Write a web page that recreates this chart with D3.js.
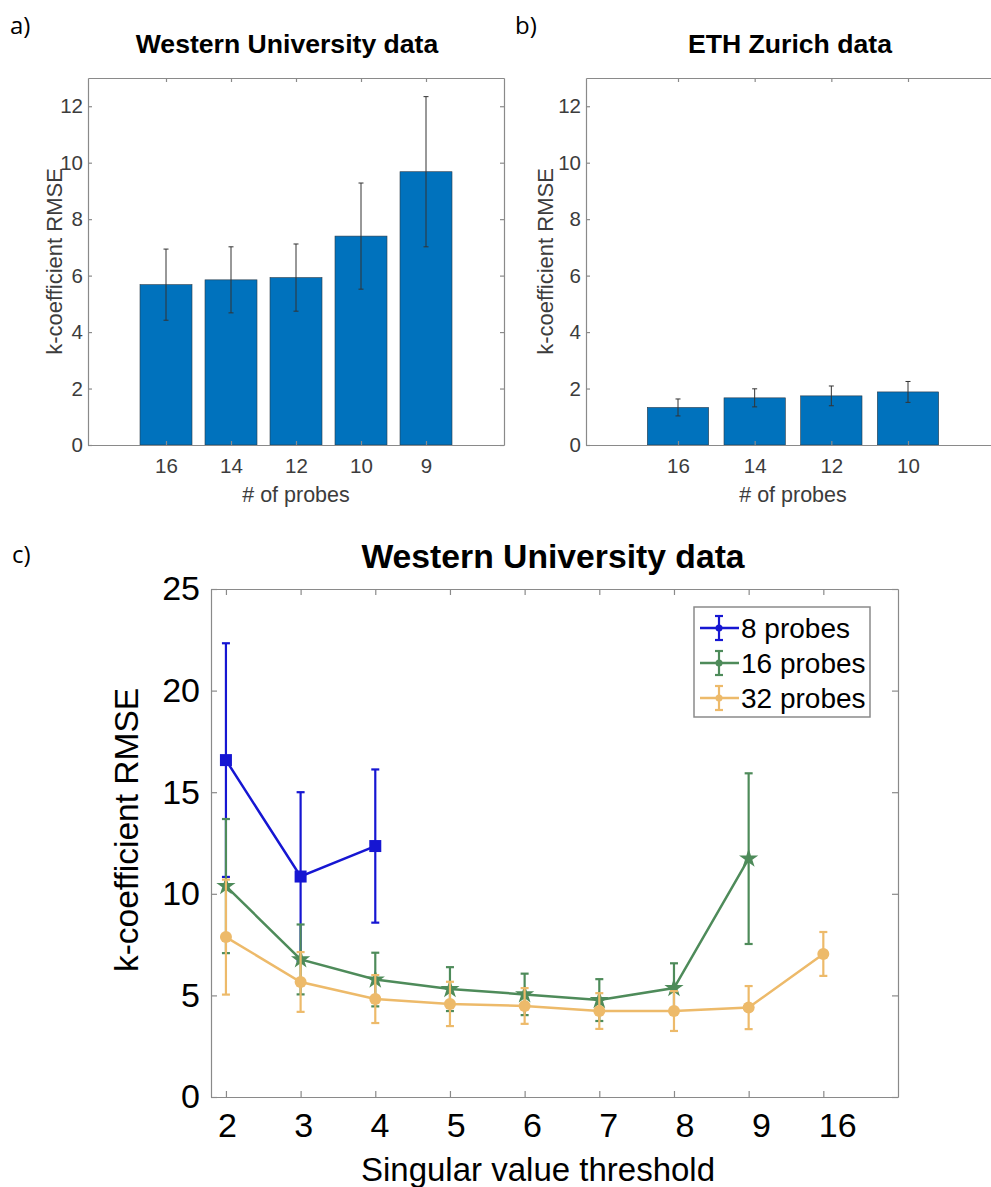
<!DOCTYPE html>
<html>
<head>
<meta charset="utf-8">
<script src="https://cdnjs.cloudflare.com/ajax/libs/d3/7.8.5/d3.min.js"></script>
<style>
    body { margin: 0; background: #fff; }
    svg { display: block; font-family: "Liberation Sans", Arial, sans-serif; }
</style>
</head>
<body>
<div id="figure"></div>
<script>

// * Data

// a) Western University, bar chart
var probesA = ["16", "14", "12", "10", "9"];
var rmseA   = [5.68, 5.85, 5.93, 7.40, 9.68];
var errA    = [1.26, 1.17, 1.19, 1.88, 2.66];

// b) ETH Zurich, bar chart
var probesB = ["16", "14", "12", "10"];
var rmseB   = [1.33, 1.67, 1.74, 1.88];
var errB    = [0.30, 0.32, 0.35, 0.37];

var barTicks = [0, 2, 4, 6, 8, 10, 12];

// c) Western University, RMSE vs singular value threshold
var thresholds = ["2", "3", "4", "5", "6", "7", "8", "9", "16"];
var seriesNames = ["8 probes", "16 probes", "32 probes"];
var rmse8  = [16.58, 10.85, 12.35];
var err8   = [5.75, 4.15, 3.77];
var rmse16 = [10.38, 6.77, 5.78, 5.31, 5.05, 4.77, 5.36, 11.73];
var err16  = [3.30, 1.72, 1.32, 1.08, 1.02, 1.03, 1.22, 4.20];
var rmse32 = [7.87, 5.66, 4.82, 4.58, 4.48, 4.23, 4.23, 4.40, 7.04];
var err32  = [2.83, 1.47, 1.18, 1.09, 0.88, 0.88, 0.98, 1.06, 1.08];

var lineTicks = [0, 5, 10, 15, 20, 25];


var axisColor = "#8a8a8a";
var barColor = "#0072BD";
var seriesColors = ["#1616d2", "#4e8b5a", "#edba6a"];
var seriesMarkers = ["square", "star", "circle"];

var svg = d3.select("#figure").append("svg")
    .attr("width", 991)
    .attr("height", 1187);


// * helper to colour an axis group
function styleAxis(g, textColor, fontSize) {
    g.select(".domain").attr("stroke", axisColor).attr("stroke-width", 1.2);
    g.selectAll(".tick line").attr("stroke", axisColor).attr("stroke-width", 1.2);
    g.selectAll(".tick text")
        .attr("fill", textColor)
        .style("font-size", fontSize + "px");
}


/*
 *  drawBars - one bar panel with error bars
 */
function drawBars(cfg) {
    var n = cfg.labels.length;

    var x = d3.scaleLinear()
        .domain([-0.2, n + 1.2])
        .range([cfg.left, cfg.right]);

    var y = d3.scaleLinear()
        .domain([0, 13])
        .range([cfg.bottom, cfg.top]);

    var step = x(1) - x(0);
    var g = svg.append("g");

    // bars
    g.selectAll(".bar")
        .data(cfg.values)
        .enter()
        .append("rect")
        .attr("class", "bar")
        .attr("x", function(d, i) { return x(i + 1) - 0.4 * step; })
        .attr("width", 0.8 * step)
        .attr("y", function(d) { return y(d); })
        .attr("height", function(d) { return y(0) - y(d); })
        .attr("fill", barColor)
        .attr("stroke", "#2a3a48")
        .attr("stroke-width", 0.6);

    // error bars
    var eb = g.selectAll(".err")
        .data(cfg.values)
        .enter()
        .append("g")
        .attr("class", "err")
        .attr("stroke", "#333")
        .attr("stroke-width", 1);

    eb.append("line")
        .attr("x1", function(d, i) { return x(i + 1); })
        .attr("x2", function(d, i) { return x(i + 1); })
        .attr("y1", function(d, i) { return y(d + cfg.errors[i]); })
        .attr("y2", function(d, i) { return y(d - cfg.errors[i]); });
    [1, -1].forEach(function(s) {
        eb.append("line")
            .attr("x1", function(d, i) { return x(i + 1) - 2.5; })
            .attr("x2", function(d, i) { return x(i + 1) + 2.5; })
            .attr("y1", function(d, i) { return y(d + s * cfg.errors[i]); })
            .attr("y2", function(d, i) { return y(d + s * cfg.errors[i]); });
    });

    // axes (box with inward ticks)
    var tickIdx = d3.range(1, n + 1);

    g.append("g")
        .attr("transform", "translate(0," + cfg.bottom + ")")
        .call(d3.axisBottom(x).tickValues(tickIdx)
            .tickFormat(function(d) { return cfg.labels[d - 1]; })
            .tickSizeInner(-4).tickSizeOuter(0).tickPadding(13))
        .call(styleAxis, "#3c3c3c", 20.5);

    g.append("g")
        .attr("transform", "translate(0," + cfg.top + ")")
        .call(d3.axisTop(x).tickValues(tickIdx).tickFormat("")
            .tickSizeInner(-4).tickSizeOuter(0))
        .call(styleAxis, "#3c3c3c", 20.5);

    g.append("g")
        .attr("transform", "translate(" + cfg.left + ",0)")
        .call(d3.axisLeft(y).tickValues(barTicks)
            .tickSizeInner(-4).tickSizeOuter(0).tickPadding(5))
        .call(styleAxis, "#3c3c3c", 20.5);

    g.append("g")
        .attr("transform", "translate(" + cfg.right + ",0)")
        .call(d3.axisRight(y).tickValues(barTicks).tickFormat("")
            .tickSizeInner(-4).tickSizeOuter(0))
        .call(styleAxis, "#3c3c3c", 20.5);

    // labels
    g.append("text")
        .attr("x", cfg.titleX)
        .attr("y", 53)
        .attr("text-anchor", "middle")
        .style("font-size", "26.6px")
        .style("font-weight", "bold")
        .text(cfg.title);

    g.append("text")
        .attr("x", (cfg.left + Math.min(cfg.right, 1000)) / 2)
        .attr("y", 502)
        .attr("text-anchor", "middle")
        .attr("fill", "#3c3c3c")
        .style("font-size", "21.5px")
        .text("# of probes");

    g.append("text")
        .attr("transform", "translate(" + cfg.ylabelX + "," + ((cfg.top + cfg.bottom) / 2) + ") rotate(-90)")
        .attr("text-anchor", "middle")
        .attr("fill", "#3c3c3c")
        .style("font-size", "22px")
        .text("k-coefficient RMSE");
}

drawBars({
    labels: probesA, values: rmseA, errors: errA,
    left: 88, right: 504, top: 78, bottom: 445,
    title: "Western University data", titleX: 287, ylabelX: 62
});

drawBars({
    labels: probesB, values: rmseB, errors: errB,
    left: 586, right: 1000, top: 78, bottom: 445,
    title: "ETH Zurich data", titleX: 790, ylabelX: 553
});


/*
 *  c) error-bar line chart
 */
var cBox = {left: 211, right: 898, top: 589, bottom: 1097};

var xc = d3.scaleLinear()
    .domain([0.8, 10])
    .range([cBox.left, cBox.right]);

var yc = d3.scaleLinear()
    .domain([0, 25])
    .range([cBox.bottom, cBox.top]);

var gc = svg.append("g");

var thrIdx = d3.range(1, thresholds.length + 1);

gc.append("g")
    .attr("transform", "translate(0," + cBox.bottom + ")")
    .call(d3.axisBottom(xc).tickValues(thrIdx)
        .tickFormat(function(d) { return thresholds[d - 1]; })
        .tickSizeInner(-6).tickSizeOuter(0).tickPadding(16))
    .call(styleAxis, "#000", 34)
    .selectAll(".tick text")
    .attr("dx", function(d) { return 1 + 1.6 * (d - 1); });

gc.append("g")
    .attr("transform", "translate(0," + cBox.top + ")")
    .call(d3.axisTop(xc).tickValues(thrIdx).tickFormat("")
        .tickSizeInner(-6).tickSizeOuter(0))
    .call(styleAxis, "#000", 34);

gc.append("g")
    .attr("transform", "translate(" + cBox.left + ",0)")
    .call(d3.axisLeft(yc).tickValues(lineTicks)
        .tickSizeInner(-6).tickSizeOuter(0).tickPadding(11))
    .call(styleAxis, "#000", 34);

gc.append("g")
    .attr("transform", "translate(" + cBox.right + ",0)")
    .call(d3.axisRight(yc).tickValues(lineTicks).tickFormat("")
        .tickSizeInner(-6).tickSizeOuter(0))
    .call(styleAxis, "#000", 34);

// series
var allSeries = [
    {name: seriesNames[0], values: rmse8,  errors: err8},
    {name: seriesNames[1], values: rmse16, errors: err16},
    {name: seriesNames[2], values: rmse32, errors: err32}
];

var line = d3.line()
    .x(function(d, i) { return xc(i + 1); })
    .y(function(d) { return yc(d); });

function drawMarker(sel, type, color) {
    if (type === "square") {
        sel.append("rect")
            .attr("x", -6).attr("y", -6)
            .attr("width", 12).attr("height", 12)
            .attr("fill", color);
    } else if (type === "star") {
        sel.append("path")
            .attr("d", d3.symbol(d3.symbolStar).size(115)())
            .attr("fill", color);
    } else {
        sel.append("circle")
            .attr("r", 6)
            .attr("fill", color);
    }
}

allSeries.forEach(function(s, k) {
    var color = seriesColors[k];
    var sg = gc.append("g");

    var eb = sg.selectAll(".eb")
        .data(s.values)
        .enter()
        .append("g")
        .attr("stroke", color)
        .attr("stroke-width", 2.2);

    eb.append("line")
        .attr("x1", function(d, i) { return xc(i + 1); })
        .attr("x2", function(d, i) { return xc(i + 1); })
        .attr("y1", function(d, i) { return yc(d + s.errors[i]); })
        .attr("y2", function(d, i) { return yc(d - s.errors[i]); });
    [1, -1].forEach(function(sign) {
        eb.append("line")
            .attr("x1", function(d, i) { return xc(i + 1) - 4; })
            .attr("x2", function(d, i) { return xc(i + 1) + 4; })
            .attr("y1", function(d, i) { return yc(d + sign * s.errors[i]); })
            .attr("y2", function(d, i) { return yc(d + sign * s.errors[i]); });
    });

    sg.append("path")
        .datum(s.values)
        .attr("d", line)
        .attr("fill", "none")
        .attr("stroke", color)
        .attr("stroke-width", 2.5);

    sg.selectAll(".mk")
        .data(s.values)
        .enter()
        .append("g")
        .attr("transform", function(d, i) { return "translate(" + xc(i + 1) + "," + yc(d) + ")"; })
        .each(function() { drawMarker(d3.select(this), seriesMarkers[k], color); });
});

// legend
var legend = gc.append("g");
legend.append("rect")
    .attr("x", 694).attr("y", 607)
    .attr("width", 176).attr("height", 110)
    .attr("fill", "#fff")
    .attr("stroke", "#8a8a8a")
    .attr("stroke-width", 1.5);

var items = legend.selectAll(".item")
    .data(allSeries)
    .enter()
    .append("g")
    .attr("transform", function(d, i) { return "translate(0," + (628 + i * 35) + ")"; });

items.each(function(d, i) {
    var it = d3.select(this);
    var c = seriesColors[i];
    it.append("line").attr("x1", 700).attr("x2", 739).attr("y1", 0).attr("y2", 0)
        .attr("stroke", c).attr("stroke-width", 2.5);
    it.append("line").attr("x1", 719).attr("x2", 719).attr("y1", -12).attr("y2", 12)
        .attr("stroke", c).attr("stroke-width", 2.2);
    it.append("line").attr("x1", 715).attr("x2", 723).attr("y1", -12).attr("y2", -12)
        .attr("stroke", c).attr("stroke-width", 2.2);
    it.append("line").attr("x1", 715).attr("x2", 723).attr("y1", 12).attr("y2", 12)
        .attr("stroke", c).attr("stroke-width", 2.2);
    it.append("circle").attr("cx", 719).attr("cy", 0).attr("r", 3.5).attr("fill", c);
    it.append("text")
        .attr("x", 741).attr("y", 0).attr("dy", "0.35em")
        .style("font-size", "28px")
        .text(d.name);
});

// titles and axis labels
gc.append("text")
    .attr("x", 553).attr("y", 568)
    .attr("text-anchor", "middle")
    .style("font-size", "33.7px")
    .style("font-weight", "bold")
    .text("Western University data");

gc.append("text")
    .attr("x", 538).attr("y", 1181)
    .attr("text-anchor", "middle")
    .style("font-size", "33px")
    .text("Singular value threshold");

gc.append("text")
    .attr("transform", "translate(138,830) rotate(-90)")
    .attr("text-anchor", "middle")
    .style("font-size", "33.5px")
    .text("k-coefficient RMSE");

// panel letters
[["a)", 10, 34], ["b)", 515, 34], ["c)", 12, 563]].forEach(function(p) {
    svg.append("text")
        .attr("x", p[1]).attr("y", p[2])
        .style("font-family", "'Open Sans', 'Noto Sans', sans-serif")
        .style("font-size", "24px")
        .text(p[0]);
});

</script>
</body>
</html>
